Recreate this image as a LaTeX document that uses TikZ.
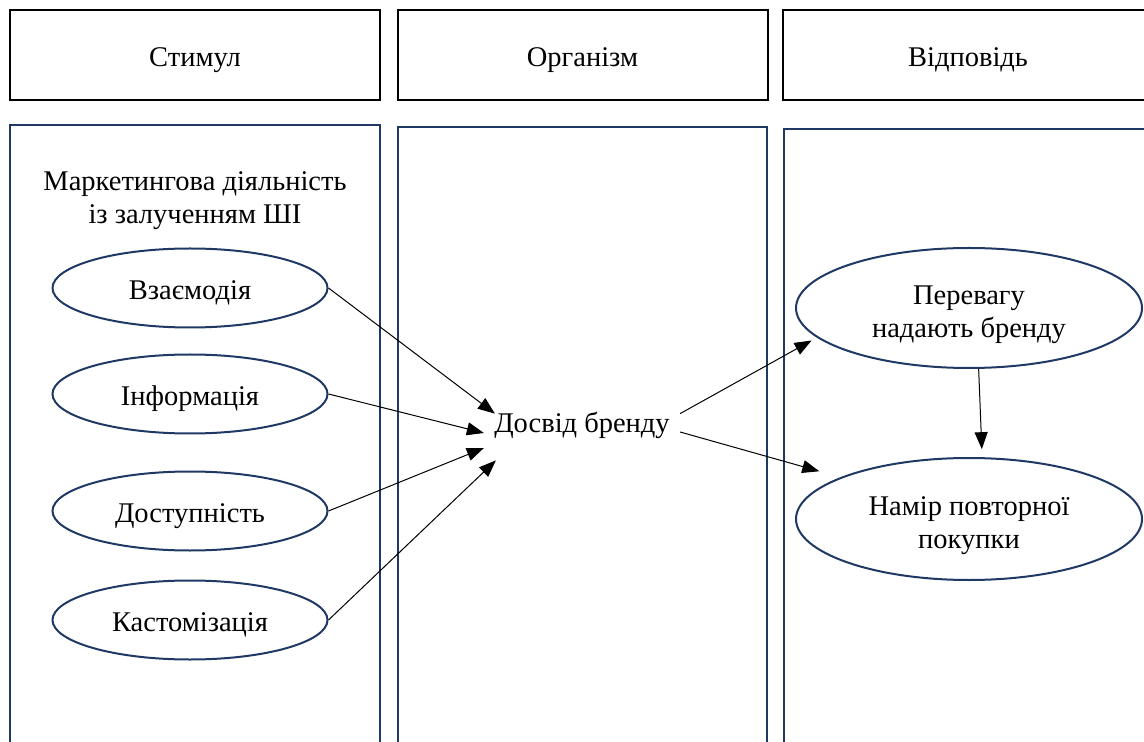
\documentclass[tikz,border=0pt]{standalone}
\usepackage{fontspec}
\setmainfont{Liberation Serif}
\usetikzlibrary{shapes.geometric,arrows.meta}
\definecolor{navy}{HTML}{1F3864}
\tikzset{
  head/.style={draw=black, line width=1pt, minimum width=185pt, minimum height=45pt, inner sep=0, text height=11.5pt, text depth=0pt},
  column/.style={draw=navy, line width=1pt},
  oval/.style={ellipse, draw=navy, line width=1pt, minimum width=137.5pt, minimum height=39.5pt, inner sep=0, align=center},
  link/.style={-{Triangle[length=8.5pt,width=6.5pt]}, line width=0.5pt},
}
\begin{document}
\begin{tikzpicture}[x=0.5pt, y=-0.5pt, font=\fontsize{14.25}{16.5}\selectfont]
    \useasboundingbox (0,0) rectangle (1144,742);
    \clip (0,0) rectangle (1144,742);
    % top row
    \node[head] (stim) at (195,55)   {Стимул};
    \node[head] (org)  at (582.5,55) {Організм};
    \node[head] (vidp) at (968,55)   {Відповідь};
    % columns
    \draw[column] (10,125)  rectangle (380,760);
    \draw[column] (398,127) rectangle (767,760);
    \draw[column] (784,129) rectangle (1154,760);
    \node[align=center] (mark) at (195,201) {Маркетингова діяльність\\із залученням ШІ};
    \foreach \p/\y/\lbl in {vz/288/Взаємодія, inf/394/Інформація, dost/511/Доступність, kast/620/Кастомізація} {
        \node[oval, text height=11.5pt, text depth=0pt] (\p) at (190,\y) {\lbl};
    }
    \node[text height=9.5pt, text depth=13.5pt, inner ysep=0, inner xsep=5pt] (brand) at (582,437) {Досвід бренду};
    \node[oval, minimum width=173pt, minimum height=60pt] (pref) at (969,308) {\rule{0pt}{16pt}Перевагу\\надають бренду};
    \node[oval, minimum width=173pt, minimum height=61pt] (nam)  at (969,519) {\rule{0pt}{16pt}Намір повторної\\покупки};
    % arrows
    \draw[link] (vz.east)   -- ([xshift=5.5pt]brand.north west);
    \draw[link] (inf.east)  -- ([yshift=2pt]brand.west);
    \draw[link] (dost.east) -- ([yshift=-5.5pt]brand.west);
    \draw[link] (kast.east) -- ([xshift=6pt]brand.south west);
    \draw[link, shorten >=3pt] (brand.north east) -- (pref.191);
    \draw[link, shorten >=11pt] ([yshift=2.5pt]brand.east) -- (nam.162);
    \draw[link, shorten >=4pt] (pref.-81) -- (nam.78);
\end{tikzpicture}
\end{document}
